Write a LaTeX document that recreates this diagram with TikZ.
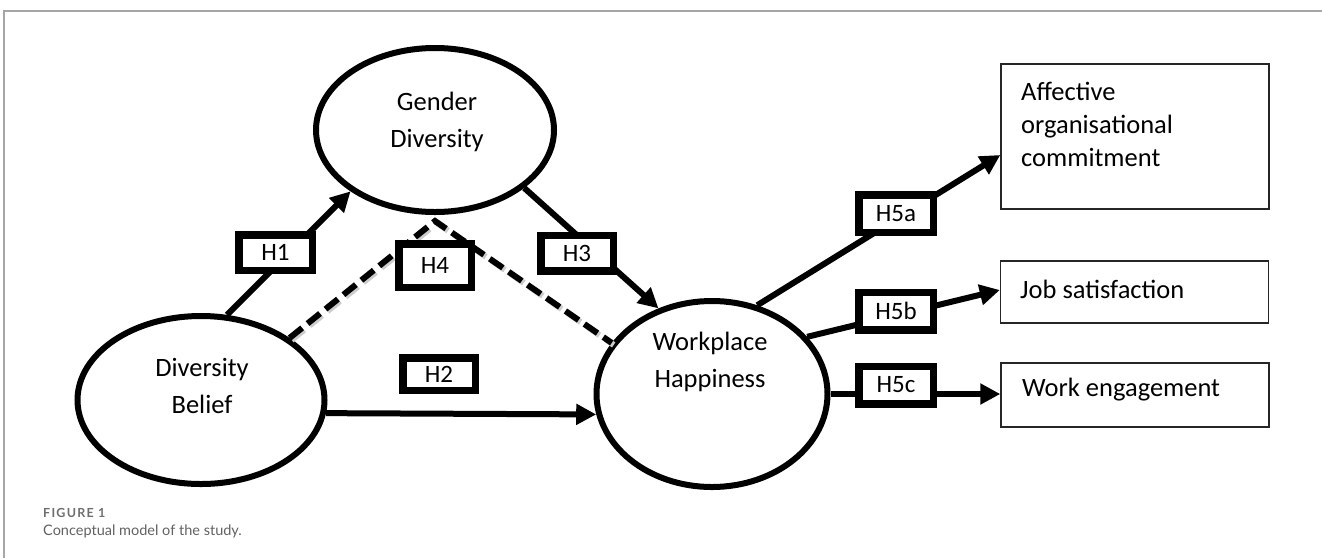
\documentclass[tikz,border=0pt]{standalone}
\usepackage{fontspec}
\setmainfont{Carlito}
\newfontfamily\capfont{Lato}
\newfontfamily\capfontsp[LetterSpace=10]{Lato}
\usetikzlibrary{arrows.meta,shapes.geometric}
\begin{document}
\begin{tikzpicture}[x=1pt,y=-1pt,
  latent/.style={ellipse,draw,line width=6pt,inner sep=0pt},
  ltext/.style={inner sep=0pt,align=center,font=\fontsize{26.5}{37}\selectfont},
  hyp/.style={draw,line width=7.5pt,fill=white,inner sep=0pt,minimum width=73.5pt,minimum height=35.5pt,font=\fontsize{25}{30}\selectfont},
  outcome/.style={draw=black!85,line width=1.4pt,inner sep=0pt,minimum width=268pt},
  otext/.style={anchor=west,inner sep=0pt,align=left,font=\fontsize{26.5}{33}\selectfont},
  hpath/.style={line width=6pt,-{Triangle[length=20pt,width=20pt]}},
  med/.style={line width=6pt,dash pattern=on 16pt off 7pt},
  medshadow/.style={line width=6pt,dash pattern=on 16pt off 7pt,draw=black!20},
  framerule/.style={draw=black!35,line width=1.2pt}]
\useasboundingbox (0,0) rectangle (1322,558);
\coordinate (fb) at (4,558);
\coordinate (fc) at (4,11);
\coordinate (fe) at (1322,11);
\draw[framerule] (fb) -- (fc) -- (fe);

% latent constructs
\node[latent,minimum width=238pt,minimum height=164pt] (gd) at (435,130) {};
\node[ltext] (gdt) at (437,122) {Gender\\Diversity};
\node[latent,minimum width=247pt,minimum height=168pt] (db) at (201,400) {};
\node[ltext] (dbt) at (202,386) {Diversity\\Belief};
\node[latent,minimum width=231pt,minimum height=186pt] (wh) at (712,394) {};
\node[ltext] (wht) at (710,362) {Workplace\\Happiness};

% outcomes
\node[outcome,minimum height=145pt] (aoc) at (1135,136.5) {};
\node[otext,anchor=north west] (aoct) at (1021,82) {Affective\\organisational\\commitment};
\node[outcome,minimum height=62pt] (js) at (1134.5,292) {};
\node[otext] (jst) at (1020,289) {Job satisfaction};
\node[outcome,minimum height=64pt] (we) at (1135,395) {};
\node[otext] (wet) at (1022,390) {Work engagement};

% mediation (dashed)
\coordinate (apex) at ([yshift=-6pt]gd.south);
\draw[medshadow,transform canvas={shift={(2pt,-2pt)}}] (db.35.5) -- (apex) -- (wh.153.9);
\draw[med] (db.35.5) -- (apex) -- (wh.153.9);

% direct paths
\draw[hpath] (db.73.4) -- (gd.-144);
\draw[hpath] (db.-6.5) -- (wh.-170);
\draw[hpath] (gd.-33) -- (wh.122);
\draw[hpath] (wh.63.7) -- ([yshift=-18.5pt]aoc.west);
\draw[hpath] (wh.31.9) -- ([yshift=2pt]js.west);
\draw[hpath] (wh.east) -- (wh.east -| we.west);

% hypothesis labels
\node[hyp] (h1) at (275.5,252.5) {H1};
\node[hyp,minimum width=72.5pt,minimum height=43.5pt] (h4) at (435,265.5) {H4};
\node[hyp,minimum width=72.5pt] (h3) at (577,253) {H3};
\node[hyp,minimum width=72.5pt,minimum height=32.5pt] (h2) at (439,374) {H2};
\node[hyp,minimum width=74.5pt,minimum height=37.5pt] (h5a) at (896,213.5) {H5a};
\node[hyp,minimum width=74.5pt,minimum height=37.5pt] (h5b) at (896,311) {H5b};
\node[hyp,minimum width=74.5pt,minimum height=37.5pt] (h5c) at (896,385) {H5c};

% caption
\node[anchor=west,inner sep=0pt,text=black!57,font=\capfontsp\bfseries\fontsize{12.5}{15}\selectfont] (fig) at (43,513) {FIGURE 1};
\node[anchor=west,inner sep=0pt,text=black!62,font=\capfont\fontsize{14.5}{18}\selectfont] (cap) at (43,531) {Conceptual model of the study.};
\end{tikzpicture}
\end{document}
